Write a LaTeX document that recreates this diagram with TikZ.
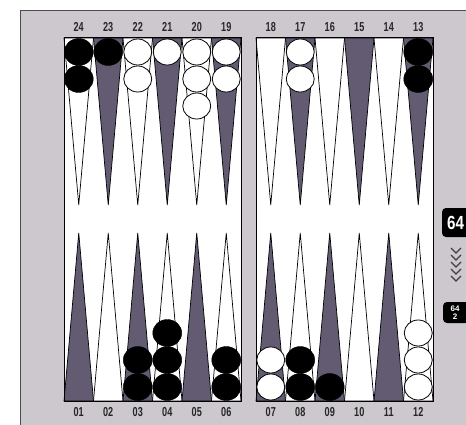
\documentclass[tikz,border=0pt]{standalone}
\usepackage{fontspec}
\setmainfont{Liberation Sans}
\usetikzlibrary{shapes.geometric}
\definecolor{framecol}{RGB}{204,200,206}
\definecolor{darkcol}{RGB}{98,91,114}
\begin{document}
\begin{tikzpicture}[x=1pt,y=-1pt,
  lbl/.style={font=\bfseries\fontsize{13}{13}\selectfont, inner sep=0pt, text=black!85},
  blackck/.style={ellipse, draw=black, fill=black, minimum width=29pt, minimum height=27pt, inner sep=0pt},
  whiteck/.style={ellipse, draw=black, line width=0.8pt, fill=white, minimum width=28pt, minimum height=26pt, inner sep=0pt},
  lightpt/.style={draw=black, line width=0.7pt, fill=white},
  darkpt/.style={draw=black, line width=0.7pt, fill=darkcol},
  boardhalf/.style={draw=black, line width=1pt, fill=white},
  cubebox/.style={fill=black, rounded corners=4pt, inner sep=0pt, text=white, anchor=west},
]
\useasboundingbox (0,0) rectangle (466,425);
\clip (0,0) rectangle (466,425);
\fill[white] (0,0) rectangle (466,425);
% frame
\draw[fill=framecol, draw=black!70, line width=0.8pt] (20,10) rectangle (480,440);
% board halves
\draw[boardhalf] (64,38) rectangle (241,401);
\draw[boardhalf] (256,38) rectangle (433,401);
% points
\foreach \i/\s/\t in {0/lightpt/darkpt,1/darkpt/lightpt,2/lightpt/darkpt,3/darkpt/lightpt,4/lightpt/darkpt,5/darkpt/lightpt} {
  \path[\s] ({64+\i*29.5},38) -- ({64+(\i+1)*29.5},38) -- ({64+(\i+0.5)*29.5},205) -- cycle;
  \path[\s] ({256+\i*29.5},38) -- ({256+(\i+1)*29.5},38) -- ({256+(\i+0.5)*29.5},205) -- cycle;
  \path[\t] ({64+\i*29.5},401) -- ({64+(\i+1)*29.5},401) -- ({64+(\i+0.5)*29.5},233) -- cycle;
  \path[\t] ({256+\i*29.5},401) -- ({256+(\i+1)*29.5},401) -- ({256+(\i+0.5)*29.5},233) -- cycle;
}
\draw[boardhalf, fill=none] (64,38) rectangle (241,401);
\draw[boardhalf, fill=none] (256,38) rectangle (433,401);
% labels
\foreach \i/\a/\b/\c/\d in {0/24/18/01/07,1/23/17/02/08,2/22/16/03/09,3/21/15/04/10,4/20/14/05/11,5/19/13/06/12} {
  \node[lbl] (lt\a) at ({64+(\i+0.5)*29.5},27) {\scalebox{0.7}[1]{\a}};
  \node[lbl] (lt\b) at ({256+(\i+0.5)*29.5},27) {\scalebox{0.7}[1]{\b}};
  \node[lbl] (lb\c) at ({64+(\i+0.5)*29.5},412) {\scalebox{0.7}[1]{\c}};
  \node[lbl] (lb\d) at ({256+(\i+0.5)*29.5},412) {\scalebox{0.7}[1]{\d}};
}
% top checkers
\foreach \cx/\n/\st/\nm in {78.75/2/blackck/p24, 108.25/1/blackck/p23, 137.75/2/whiteck/p22, 167.25/1/whiteck/p21, 196.75/3/whiteck/p20, 226.25/2/whiteck/p19, 300.25/2/whiteck/p17, 418.25/2/blackck/p13} {
  \foreach \k in {1,...,\n} {
    \node[\st] (\nm-\k) at (\cx,{52+(\k-1)*27}) {};
  }
}
% bottom checkers
\foreach \cx/\n/\st/\nm in {137.75/2/blackck/p03, 167.25/3/blackck/p04, 226.25/2/blackck/p06, 270.75/2/whiteck/p07, 300.25/2/blackck/p08, 329.75/1/blackck/p09, 418.25/3/whiteck/p12} {
  \foreach \k in {1,...,\n} {
    \node[\st] (\nm-\k) at (\cx,{387-(\k-1)*27}) {};
  }
}
% doubling cube
\fill[black, rounded corners=4pt] (442,208) rectangle (476,237);
\node[inner sep=0pt, text=white, font=\bfseries\fontsize{19}{19}\selectfont] (cube) at (455.5,222.5) {\scalebox{0.8}[1]{64}};
% chevrons
\foreach \y in {248,255,262,269,276} {
  \draw[black!75, line width=1.2pt] (451,\y) -- (456,{\y+5}) -- (461,\y);
}
% small box
\fill[black, rounded corners=4pt] (443,302) rectangle (476,323);
\node[inner sep=0pt, align=center, text=white, font=\bfseries\fontsize{8}{8}\selectfont] (mini) at (455,312.5) {64\\2};
\end{tikzpicture}
\end{document}
